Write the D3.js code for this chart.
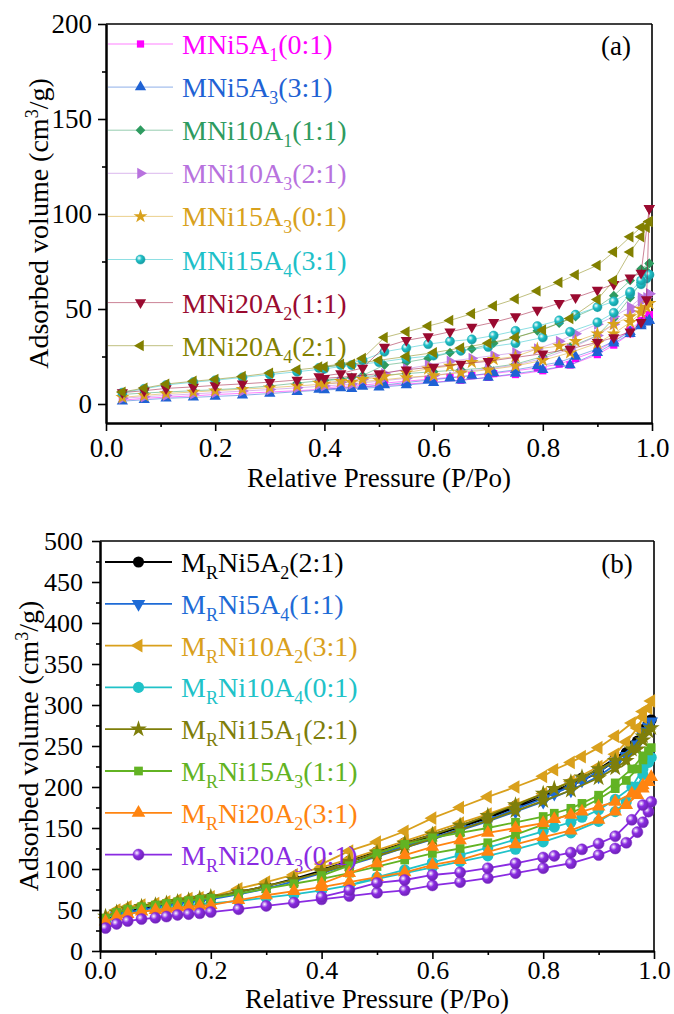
<!DOCTYPE html>
<html>
<head>
<meta charset="utf-8">
<script src="https://cdn.jsdelivr.net/npm/d3@7"></script>
<style>
body { margin: 0; background: #fff; }
text { font-family: "Liberation Serif", "Times New Roman", serif; }
</style>
</head>
<body>
<svg id="chart" width="674" height="1014"></svg>
<script>
// ---------- panel (a) data ----------
const pAdsA = [0.03,0.07,0.11,0.16,0.2,0.25,0.3,0.35,0.4,0.45,0.5,0.55,0.6,0.65,0.7,0.75,0.8,0.85,0.9,0.93,0.96,0.98,0.99,0.995];
const pDesA = [0.995,0.98,0.96,0.93,0.9,0.86,0.83,0.79,0.75,0.71,0.67,0.63,0.59,0.55,0.51,0.47,0.43,0.39];
const labelsA = [
    ["MNi5A","1","(0:1)"], ["MNi5A","3","(3:1)"], ["MNi10A","1","(1:1)"], ["MNi10A","3","(2:1)"],
    ["MNi15A","3","(0:1)"], ["MNi15A","4","(3:1)"], ["MNi20A","2","(1:1)"], ["MNi20A","4","(2:1)"]
];
const adsA = [
    [2,3,3.6,4.3,5,5.6,6.3,7,7.8,8.6,9.5,10.5,11.5,12.5,14,15.5,17.5,20.5,26,31,37,42,45,47],
    [1.5,2.2,3,3.5,4,4.6,5.5,6.5,7.4,8,8.8,10,11.2,12.5,14,16,18,20.5,27,32,37,41,43,44],
    [5,5.8,6.3,7,7.5,8.3,9.5,11,12.5,14,15,16,17,18,19,21,25,30,36,45,56,64,70,74],
    [3,3.8,4.5,5.3,6,6.8,7.6,8.5,9.5,10.5,12,13.5,15,17,18.5,20.5,24,29,36,42,49,54,56,58],
    [3.5,4.5,5.5,6.3,7,7.8,8.6,9.5,10.5,11.5,12.5,14,15,16.5,18,20,23,27,32,37,43,48,51,53],
    [6,8,10,11.5,12.5,14,15.5,17,18.5,20.5,22,24,25.5,28,30,32,35,38,43,48,58,63,66,68],
    [6,7,8.2,9,9.8,10.6,11.5,12.6,13.5,14.5,16,18,19.5,21,22.5,24.5,26.5,29,32.5,35,38,43,55,103],
    [6.3,8.4,10.5,12,13,14.5,16.3,18,19.5,21,23,25,27,29.5,32,35,39,45,55,65,80,88,93,96]
];
const desA = [
    [47,44,39,33,28,24,21,19,17.5,16,15,14,13,12,11,10,9.2,8.3],
    [44,42,38,33,29,25,22,20,18,16.5,15,13.7,12.5,11.3,10,9.2,8.4,7.6],
    [74,71,65,57,51,46,42.5,38.5,35,32,29,27,24,22,20.5,15,13,12],
    [58,56,51,46,42,37,33,29,27,25.5,24,22.5,20.5,18.5,16,13,11.5,10.2],
    [53,50,46,42,37,33,30.5,29,25,23.5,22,20,18.5,16.5,14.5,13,12,11],
    [68,65,59,54,51,47,44,41,38.5,36,34,33,31.5,29.5,27.5,23,20.5,19],
    [103,69,66.5,63,60,56,53,49.5,46,43,40.5,38,35.5,33.5,30,19,16,14.5],
    [96,93,88,80,73,68,64,59.5,55.3,51.6,47.5,44,41,38,35,24,21,19.5]
];
const colorsA = ["#ff00ff","#1f62d4","#2e9b60","#b872de","#d8a11c","#1ec0c8","#9a0a30","#828000"];
const shapesA = ["square","triUp","diamond","triRight","star","ball","triDown","triLeft"];

// ---------- panel (b) data ----------
const pAdsB = [0.01,0.03,0.05,0.075,0.1,0.12,0.14,0.16,0.18,0.2,0.25,0.3,0.35,0.4,0.45,0.5,0.55,0.6,0.65,0.7,0.75,0.8,0.85,0.9,0.93,0.95,0.97,0.98,0.99];
const pDesB = [0.995,0.98,0.96,0.93,0.9,0.87,0.85,0.82,0.8,0.75,0.7,0.65,0.6,0.55,0.5,0.45,0.4];
const labelsB = [
    ["M","R","Ni5A","2","(2:1)"], ["M","R","Ni5A","4","(1:1)"], ["M","R","Ni10A","2","(3:1)"], ["M","R","Ni10A","4","(0:1)"],
    ["M","R","Ni15A","1","(2:1)"], ["M","R","Ni15A","3","(1:1)"], ["M","R","Ni20A","2","(3:1)"], ["M","R","Ni20A","3","(0:1)"]
];
const adsB = [
    [37,44,48,52,55,57,59,61,63,65,72,79,88,98,109,119,130,140,151,162,175,187,201,218,232,242,256,266,278],
    [36,43,47,50,53,55,57,59,61,63,69,76,85,95,105,115,126,136,147,158,170,182,196,213,227,238,252,263,274],
    [41,50,54,56,58,60,62,64,65,66,76,84,93,102,112,123,134,145,156,167,179,192,207,225,240,255,272,285,296],
    [35,41,45,48,50,52,53.5,55,56.5,58,61,65,69,74,80,88,95,102,109,116,124,133,144,158,170,182,200,215,230],
    [42,47,51,54,56,58,60,62,64,66,72,79,87,96,106,116,126,137,148,159,171,183,196,211,223,232,246,257,268],
    [40,47,51,54,56,58,60,61.5,63,64.5,70,76,82,88,95,103,111,119,125,132,142,154,168,185,198,208,222,233,244],
    [36,42,45,48,50,51.5,53,54,55,56,62,68,73,78,84,90,96,105,111,121,130,139,147,160,170,178,190,198,206],
    [28,33,36.5,39,40.5,42,44,45,46,47.5,51,55,59,63,67,71,74,80,84,89,95,101,107,117,125,132,145,157,170]
];
const desB = [
    [282,270,250,235,222,211,204,195,190,177,164,153,142,132,121,110,99],
    [280,268,248,232,219,208,201,192,186,173,160,149,138,128,117,106,96],
    [305,292,278,262,248,237,230,221,213,200,188,175,162,146,133,122,106],
    [236,222,200,185,172,163,157,151,146,136,126,117,108,99,90,80,74],
    [272,262,246,232,222,212,206,198,192,178,165,153,142,131,120,109,98],
    [248,238,222,205,190,180,174,168,164,157,150,144,138,130,119,104,92],
    [212,202,192,182,176,170,166,161,156,150,144,135,127,117,107,95,82],
    [182,178,160,140,131,124,120,116,114,107,101,96,92.7,86.6,83,74,66]
];
const colorsB = ["#000000","#1e6bd6","#d9a01c","#20c2c8","#7e7e0a","#62b323","#ff8410","#8a2be2"];
const shapesB = ["circle","triDown","triLeft","circle","star","square","triUp","ball"];

const svg = d3.select("#chart");
const defs = svg.append("defs");
const serif = '"Liberation Serif", "Times New Roman", serif';

function ballGradient(id, color) {
    const g = defs.append("radialGradient").attr("id", id)
        .attr("cx", "35%").attr("cy", "35%").attr("r", "65%");
    g.append("stop").attr("offset", "0%").attr("stop-color", "#ffffff");
    g.append("stop").attr("offset", "45%").attr("stop-color", color);
    g.append("stop").attr("offset", "100%").attr("stop-color", d3.color(color).darker(0.6));
    return "url(#" + id + ")";
}

function marker(sel, shape, color, size, fillUrl) {
    let type = d3.symbolTriangle, rot = 0, s = size;
    if (shape == "square") { type = d3.symbolSquare; s = size * 0.95; }
    if (shape == "diamond") { type = d3.symbolSquare; rot = 45; s = size * 0.85; }
    if (shape == "circle" || shape == "ball") { type = d3.symbolCircle; s = size * 1.2; }
    if (shape == "star") { type = d3.symbolStar; s = size * 1.1; }
    if (shape == "triDown") rot = 180;
    if (shape == "triRight") rot = 90;
    if (shape == "triLeft") rot = -90;
    sel.attr("d", d3.symbol().type(type).size(s))
        .attr("fill", shape == "ball" ? fillUrl : color)
        .attr("stroke", shape == "ball" ? d3.color(color).darker(0.3) : "none")
        .attr("stroke-width", 0.5)
        .attr("transform", d => "translate(" + d[0] + "," + d[1] + ") rotate(" + rot + ")");
}

function drawPanel(cfg) {
    const x = d3.scaleLinear().domain([0, 1]).range([cfg.left, cfg.right]);
    const y = d3.scaleLinear().domain(cfg.yDomain).range([cfg.bottom, cfg.top]);
    const g = svg.append("g");

    // frame top/right
    g.append("line").attr("x1", cfg.left).attr("x2", cfg.right).attr("y1", cfg.top).attr("y2", cfg.top)
        .attr("stroke", "#000").attr("stroke-width", 1.6);
    g.append("line").attr("x1", cfg.right).attr("x2", cfg.right).attr("y1", cfg.top).attr("y2", cfg.bottom)
        .attr("stroke", "#000").attr("stroke-width", 1.6);

    // series
    cfg.ads.forEach((ads, i) => {
        const color = cfg.colors[i];
        const pts = cfg.pAds.map((p, j) => [x(p), y(ads[j])])
            .concat(cfg.pDes.map((p, j) => [x(p), y(cfg.des[i][j])]));
        const fillUrl = ballGradient(cfg.id + "ball" + i, color);
        const sg = g.append("g");
        sg.append("path").attr("d", d3.line()(pts)).attr("fill", "none")
            .attr("stroke", color).attr("stroke-opacity", cfg.lineOpacity).attr("stroke-width", cfg.lineWidth);
        sg.selectAll("path.m").data(pts).enter().append("path").attr("class", "m")
            .call(marker, cfg.shapes[i], color, cfg.markSize, fillUrl);

        // legend entry
        const ly = cfg.legY + i * cfg.legStep;
        g.append("line").attr("x1", cfg.legX1).attr("x2", cfg.legX2).attr("y1", ly).attr("y2", ly)
            .attr("stroke", color).attr("stroke-opacity", cfg.lineOpacity).attr("stroke-width", cfg.lineWidth);
        g.append("path").datum([(cfg.legX1 + cfg.legX2) / 2, ly])
            .call(marker, cfg.shapes[i], color, cfg.markSize, fillUrl);
        const t = g.append("text").attr("x", cfg.legX2 + 9).attr("y", ly + 10)
            .attr("fill", color).style("font-size", "28px").style("font-family", serif);
        cfg.labels[i].forEach((part, k) => {
            const sub = k % 2 == 1;
            const ts = t.append("tspan").text(part);
            if (sub) ts.style("font-size", "18px").attr("dy", 7);
            else if (k > 0) ts.attr("dy", -7);
        });
    });

    // axes
    g.append("g").attr("transform", "translate(0," + cfg.bottom + ")")
        .call(d3.axisBottom(x).tickValues([0, 0.2, 0.4, 0.6, 0.8, 1]).tickFormat(d3.format(".1f"))
            .tickSize(8).tickSizeOuter(0).tickPadding(cfg.xPad));
    g.append("g").attr("transform", "translate(0," + cfg.bottom + ")")
        .call(d3.axisBottom(x).tickValues([0.1, 0.3, 0.5, 0.7, 0.9]).tickFormat("").tickSize(4).tickSizeOuter(0));
    g.append("g").attr("transform", "translate(" + cfg.left + ",0)")
        .call(d3.axisLeft(y).tickValues(cfg.yTicks).tickSize(8).tickSizeOuter(0).tickPadding(cfg.yPad));
    g.append("g").attr("transform", "translate(" + cfg.left + ",0)")
        .call(d3.axisLeft(y).tickValues(cfg.yMinor).tickFormat("").tickSize(4).tickSizeOuter(0));
    g.selectAll(".domain").attr("stroke-width", 2);
    g.selectAll(".tick line").attr("stroke-width", 1.6);
    g.selectAll(".tick text").style("font-size", cfg.tickFont + "px").style("font-family", serif).attr("fill", "#000");

    // titles
    g.append("text").attr("x", (cfg.left + cfg.right) / 2).attr("y", cfg.xTitleY)
        .attr("text-anchor", "middle").style("font-size", "27px").style("font-family", serif)
        .text("Relative Pressure (P/Po)");
    const yt = g.append("text").attr("transform", "translate(" + cfg.yTitleX + "," + ((cfg.top + cfg.bottom) / 2) + ") rotate(-90)")
        .attr("text-anchor", "middle").style("font-size", "28px").style("font-family", serif);
    yt.append("tspan").text("Adsorbed volume (cm");
    yt.append("tspan").text("3").style("font-size", "18px").attr("dy", -10);
    yt.append("tspan").text("/g)").attr("dy", 10);
    g.append("text").attr("x", cfg.tagX).attr("y", cfg.tagY).attr("text-anchor", "middle")
        .style("font-size", "27px").style("font-family", serif).text(cfg.tag);
}

drawPanel({
    id: "a", left: 106, right: 652, top: 24, bottom: 423, yDomain: [-10, 200],
    yTicks: [0, 50, 100, 150, 200], yMinor: [25, 75, 125, 175],
    pAds: pAdsA, pDes: pDesA, ads: adsA, des: desA, colors: colorsA, shapes: shapesA, labels: labelsA,
    lineOpacity: 0.5, lineWidth: 1, markSize: 55,
    legY: 44, legStep: 43.1, legX1: 108, legX2: 173,
    tickFont: 27, xPad: 7, yPad: 6, xTitleY: 487, yTitleX: 48, tag: "(a)", tagX: 616, tagY: 55
});
drawPanel({
    id: "b", left: 100, right: 654, top: 541, bottom: 951, yDomain: [0, 500],
    yTicks: d3.range(0, 501, 50), yMinor: d3.range(25, 500, 50),
    pAds: pAdsB, pDes: pDesB, ads: adsB, des: desB, colors: colorsB, shapes: shapesB, labels: labelsB,
    lineOpacity: 1, lineWidth: 1.8, markSize: 80,
    legY: 562, legStep: 41.8, legX1: 105, legX2: 172,
    tickFont: 26, xPad: 2, yPad: 9, xTitleY: 1008, yTitleX: 38, tag: "(b)", tagX: 617, tagY: 573
});
</script>
</body>
</html>
